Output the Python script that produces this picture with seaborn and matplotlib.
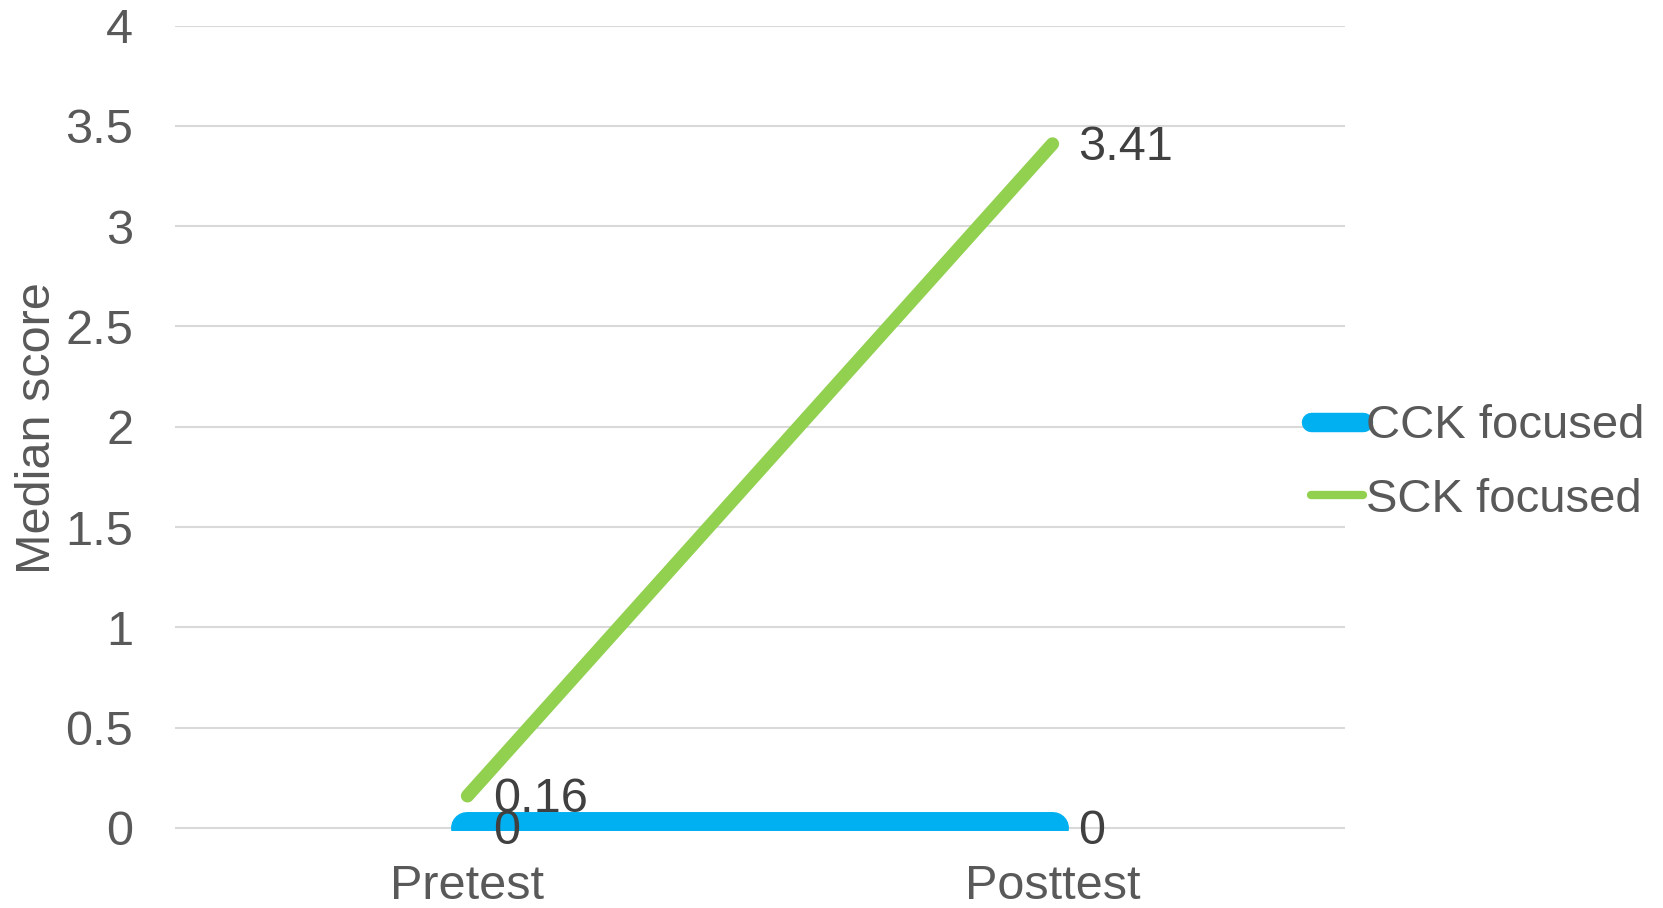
import matplotlib
matplotlib.use("Agg")
import matplotlib.pyplot as plt
import seaborn as sns
import pandas as pd
from matplotlib.lines import Line2D

# Median scores per group and test occasion
tests = ["Pretest", "Posttest"]
cck_focused = [0, 0]
sck_focused = [0.16, 3.41]
groups = ["CCK focused", "SCK focused"]
y_ticks = [0, 0.5, 1, 1.5, 2, 2.5, 3, 3.5, 4]
y_tick_labels = ["0", "0.5", "1", "1.5", "2", "2.5", "3", "3.5", "4"]

df = pd.DataFrame({
    "test": tests * 2,
    "score": cck_focused + sck_focused,
    "group": [groups[0]] * 2 + [groups[1]] * 2,
})

sns.set_theme(style="white")
plt.rcParams["font.family"] = ["Liberation Sans", "DejaVu Sans"]

TEXT = "#595959"
LABEL = "#404040"
FS = 35
colors = {"CCK focused": "#00B0F0", "SCK focused": "#92D050"}
widths = {"CCK focused": 23, "SCK focused": 9.5}

fig = plt.figure(figsize=(16.63, 9.08), dpi=100)
ax = fig.add_axes([0.1052, 0.0848, 0.7036, 0.8871])

for g in groups:
    sub = df[df["group"] == g]
    sns.lineplot(data=sub, x="test", y="score", ax=ax, color=colors[g],
                 linewidth=widths[g], solid_capstyle="round", legend=False,
                 zorder=3 if g == "CCK focused" else 4)

ax.set_xlim(-0.5, 1.5)
ax.set_ylim(-0.015, 4)
ax.set_yticks(y_ticks)
ax.set_yticklabels(y_tick_labels)
ax.grid(axis="y", color="#D9D9D9", linewidth=1.5, zorder=0)
ax.grid(axis="x", visible=False)
for s in ax.spines.values():
    s.set_visible(False)
ax.tick_params(axis="both", length=0, labelsize=FS, colors=TEXT)
ax.tick_params(axis="y", pad=30)
ax.tick_params(axis="x", pad=24)
ax.set_xlabel("")
ax.set_ylabel("Median score", fontsize=FS, color=TEXT, labelpad=4)

# Value labels to the right of each point
for series in (sck_focused, cck_focused):
    for i, v in enumerate(series):
        ax.annotate(f"{v:g}", xy=(i, v), xytext=(26, -4), textcoords="offset pixels",
                    ha="left", va="center", fontsize=FS, color=LABEL, zorder=5)

handles = [Line2D([], [], color=colors["CCK focused"], linewidth=14, solid_capstyle="round"),
           Line2D([], [], color=colors["SCK focused"], linewidth=6, solid_capstyle="round")]
fig.legend(handles, groups, loc="center left", bbox_to_anchor=(0.763, 0.490),
           frameon=False, fontsize=34, labelcolor=TEXT, handlelength=1.1,
           handletextpad=0.05, labelspacing=0.62)

fig.savefig("out.png", dpi=100)
